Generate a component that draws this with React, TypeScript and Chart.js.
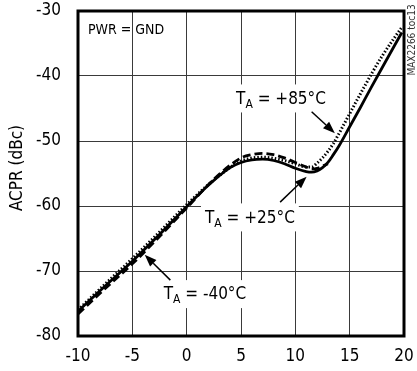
import React, { useEffect, useRef } from "react";
import { Chart, registerables } from "chart.js";

Chart.register(...registerables);

// ---- data ----
const xTicks = [-10, -5, 0, 5, 10, 15, 20];
const yTicks = [-80, -70, -60, -50, -40, -30];

const x25 = [-10, -7.5, -5, -2.5, 0, 2, 4, 5, 6, 7, 8, 9, 10, 11, 11.5, 12, 12.5, 13, 13.5, 14, 15, 16, 17, 18, 19, 19.8];
const y25 = [-76.2, -72.3, -68.5, -64.4, -60.1, -56.8, -54.1, -53.3, -52.9, -52.8, -53.0, -53.5, -54.2, -54.7, -54.8, -54.6, -54.1, -53.3, -52.1, -50.8, -47.8, -44.8, -41.7, -38.7, -35.7, -33.3];

const x85 = [-10, -7.5, -5, -2.5, 0, 2.5, 5, 7, 9, 10, 11, 11.5, 12, 12.5, 13, 13.5, 14, 15, 16, 16.5, 17, 18, 19, 19.8];
const y85 = [-76.0, -72.0, -68.1, -64.0, -59.8, -56.0, -53.1, -52.5, -53.0, -53.5, -54.0, -54.0, -53.4, -52.6, -51.6, -50.4, -48.9, -45.8, -42.7, -41.2, -39.7, -36.9, -34.4, -32.5];

const xM40 = [-10, -7.5, -5, -2.5, 0, 2.5, 5, 6, 7, 8, 9, 10, 11, 11.5, 12, 13];
const yM40 = [-76.6, -72.7, -68.9, -64.7, -60.3, -55.9, -52.6, -52.1, -51.9, -52.1, -52.6, -53.3, -54.0, -54.3, -54.2, -53.5];

// annotation labels
const labelTexts = [" = +85°C", " = +25°C", " = -40°C"];
const labelX = [8.68, 5.82, 1.68];
const labelY = [-43.3, -61.6, -73.4];
const arrowFromX = [11.5, 8.6, -1.5];
const arrowFromY = [-45.5, -59.4, -71.4];
const arrowToX = [13.64, 11.04, -3.86];
const arrowToY = [-48.8, -55.5, -67.5];

const FONT = '"Liberation Sans Narrow", "DejaVu Sans Condensed", "Arial Narrow", sans-serif';

const pts = (xs: number[], ys: number[]) => xs.map((x, i) => ({ x, y: ys[i] }));

const decorPlugin = {
  id: "decor",
  afterDraw(chart: any) {
    const ctx = chart.ctx as CanvasRenderingContext2D;
    const { left, right, top, bottom } = chart.chartArea;
    const xs = chart.scales.x;
    const ys = chart.scales.y;
    ctx.save();
    // frame
    ctx.strokeStyle = "#000";
    ctx.lineWidth = 3;
    ctx.strokeRect(left, top, right - left, bottom - top);

    // PWR = GND
    ctx.fillStyle = "#000";
    ctx.font = `14px ${FONT}`;
    ctx.textBaseline = "alphabetic";
    ctx.textAlign = "left";
    ctx.fillText("PWR = GND", left + 10, top + 23);

    // labels
    for (let i = 0; i < labelTexts.length; i++) {
      const cx = xs.getPixelForValue(labelX[i]);
      const cy = ys.getPixelForValue(labelY[i]);
      const big = 17;
      const small = 12;
      ctx.font = `${big}px ${FONT}`;
      const wT = ctx.measureText("T").width;
      const wRest = ctx.measureText(labelTexts[i]).width;
      ctx.font = `${small}px ${FONT}`;
      const wA = ctx.measureText("A").width;
      const total = wT + wA + wRest;
      const sx = cx - total / 2;
      const base = cy + big * 0.36;
      ctx.fillStyle = "#fff";
      ctx.fillRect(sx - 4, cy - 13, total + 8, 28);
      ctx.fillStyle = "#000";
      ctx.font = `${big}px ${FONT}`;
      ctx.fillText("T", sx, base);
      ctx.font = `${small}px ${FONT}`;
      ctx.fillText("A", sx + wT, base + 4);
      ctx.font = `${big}px ${FONT}`;
      ctx.fillText(labelTexts[i], sx + wT + wA, base);

      // arrow
      const x0 = xs.getPixelForValue(arrowFromX[i]);
      const y0 = ys.getPixelForValue(arrowFromY[i]);
      const x1 = xs.getPixelForValue(arrowToX[i]);
      const y1 = ys.getPixelForValue(arrowToY[i]);
      const ang = Math.atan2(y1 - y0, x1 - x0);
      const hl = 12;
      const hw = 4.5;
      const bx = x1 - hl * Math.cos(ang);
      const by = y1 - hl * Math.sin(ang);
      ctx.strokeStyle = "#000";
      ctx.lineWidth = 1.5;
      ctx.beginPath();
      ctx.moveTo(x0, y0);
      ctx.lineTo(bx, by);
      ctx.stroke();
      ctx.beginPath();
      ctx.moveTo(x1, y1);
      ctx.lineTo(bx + hw * Math.sin(ang), by - hw * Math.cos(ang));
      ctx.lineTo(bx - hw * Math.sin(ang), by + hw * Math.cos(ang));
      ctx.closePath();
      ctx.fill();
    }

    // side code
    ctx.save();
    ctx.translate(412, 40);
    ctx.rotate(-Math.PI / 2);
    ctx.font = `10px ${FONT}`;
    ctx.fillStyle = "#333";
    ctx.textAlign = "center";
    ctx.textBaseline = "middle";
    ctx.fillText("MAX2266 toc13", 0, 0);
    ctx.restore();

    // y title
    ctx.save();
    ctx.translate(18, 168);
    ctx.rotate(-Math.PI / 2);
    ctx.font = `17px ${FONT}`;
    ctx.fillStyle = "#000";
    ctx.textAlign = "center";
    ctx.textBaseline = "middle";
    ctx.fillText("ACPR (dBc)", 0, 0);
    ctx.restore();

    ctx.restore();
  },
};

export default function App() {
  const ref = useRef<HTMLCanvasElement | null>(null);
  useEffect(() => {
    if (!ref.current) return;
    const chart = new Chart(ref.current, {
      type: "line",
      data: {
        datasets: [
          {
            label: "+25",
            data: pts(x25, y25),
            borderColor: "#000",
            borderWidth: 2.8,
            pointRadius: 0,
            cubicInterpolationMode: "monotone",
            fill: false,
          },
          {
            label: "-40",
            data: pts(xM40, yM40),
            borderColor: "#000",
            borderWidth: 2.8,
            borderDash: [8, 4],
            pointRadius: 0,
            cubicInterpolationMode: "monotone",
            fill: false,
          },
          {
            label: "+85",
            data: pts(x85, y85),
            borderColor: "#000",
            borderWidth: 3,
            borderDash: [1.5, 2],
            borderCapStyle: "butt",
            pointRadius: 0,
            cubicInterpolationMode: "monotone",
            fill: false,
          },
        ],
      },
      options: {
        animation: false,
        responsive: true,
        maintainAspectRatio: false,
        layout: { padding: { left: 0, right: 13, top: 11, bottom: 0 } },
        plugins: { legend: { display: false }, tooltip: { enabled: false } },
        scales: {
          x: {
            type: "linear",
            min: -10,
            max: 20,
            afterBuildTicks: (s: any) => {
              s.ticks = xTicks.map((v) => ({ value: v }));
            },
            afterFit: (s: any) => {
              s.height = 35;
              s.paddingLeft = 0;
              s.paddingRight = 0;
              s.paddingTop = 0;
              s.paddingBottom = 0;
            },
            ticks: { color: "#000", font: { family: FONT, size: 17 }, padding: 10, maxRotation: 0 },
            grid: { color: "#3a3a3a", lineWidth: 1, drawTicks: false },
            border: { display: false },
          },
          y: {
            type: "linear",
            min: -80,
            max: -30,
            afterBuildTicks: (s: any) => {
              s.ticks = yTicks.map((v) => ({ value: v }));
            },
            afterFit: (s: any) => {
              s.width = 78;
              s.paddingLeft = 0;
              s.paddingRight = 0;
              s.paddingTop = 0;
              s.paddingBottom = 0;
            },
            ticks: { color: "#000", font: { family: FONT, size: 17 }, padding: 17 },
            grid: { color: "#3a3a3a", lineWidth: 1, drawTicks: false },
            border: { display: false },
          },
        },
      },
      plugins: [decorPlugin],
    } as any);
    return () => chart.destroy();
  }, []);
  return (
    <div style={{ position: "absolute", left: 0, top: 0, width: 417, height: 371, background: "#fff" }}>
      <canvas ref={ref} />
    </div>
  );
}
